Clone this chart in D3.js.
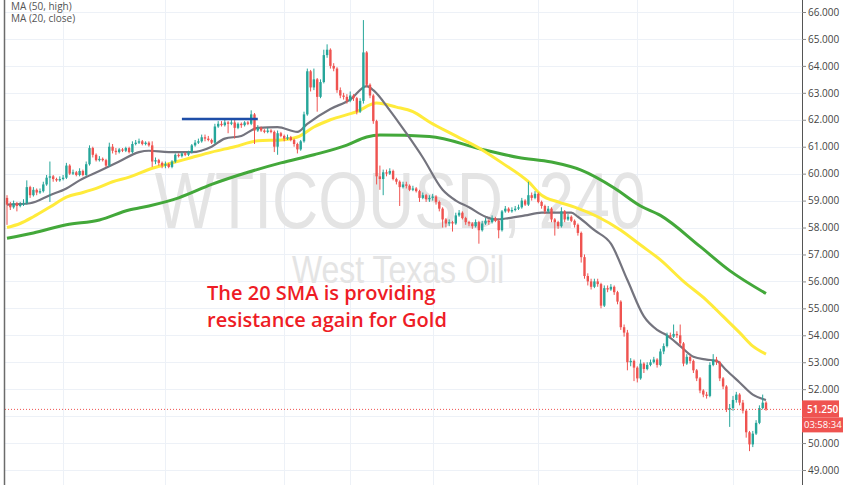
<!DOCTYPE html>
<html><head><meta charset="utf-8">
<script src="https://cdn.jsdelivr.net/npm/d3@7"></script>
<style>body{margin:0;background:#fff;}svg{display:block;}</style>
</head><body>
<svg id="chart" width="852" height="485"></svg>
<script>
// ---- DATA ----
const firstOpen = 59.1;
const closes = [58.85,58.75,58.9,58.8,58.85,58.9,59.5,59.2,59.4,59.3,
59.35,59.6,59.85,59.9,59.8,59.75,59.8,59.85,60.3,60.0,
60.05,59.95,60.1,59.95,60.35,60.95,60.7,60.5,60.55,60.5,
60.3,61.0,60.85,60.8,60.9,60.85,60.95,60.8,61.1,61.15,
61.2,61.1,61.15,61.05,60.45,60.5,60.4,60.3,60.35,60.25,
60.45,60.7,60.65,60.75,60.7,60.8,61.05,61.15,61.2,61.35,
61.3,61.25,61.15,61.75,61.85,61.8,61.9,61.85,61.9,61.7,
61.85,61.8,61.9,61.85,62.2,61.6,61.7,61.6,61.55,61.6,
61.55,61.0,61.5,61.4,61.3,61.35,61.25,61.1,60.9,61.2,
62.2,63.8,63.2,63.5,62.85,63.4,64.4,64.6,64.0,63.9,
63.1,62.9,62.85,62.7,62.9,62.8,62.3,62.7,64.5,63.3,
62.9,61.95,59.9,59.8,60.05,60.0,60.1,59.8,59.7,59.5,
59.6,59.55,59.4,59.45,59.35,59.1,59.2,59.05,59.1,59.15,
58.95,58.7,58.3,58.15,58.2,58.15,58.45,58.55,58.35,58.2,
58.15,58.05,58.2,57.9,58.15,58.25,58.2,58.35,58.25,57.9,
58.6,58.7,58.6,58.65,58.7,58.75,59.0,58.85,59.2,59.1,
59.25,58.95,58.8,58.6,58.7,58.3,58.2,58.05,58.6,58.3,
58.4,58.25,58.1,57.8,56.9,56.2,56.0,55.8,56.0,55.9,
55.1,55.75,55.7,55.8,55.6,55.25,54.3,54.1,53.0,53.05,
52.8,52.4,52.95,52.75,52.9,53.0,53.1,52.9,53.4,53.6,
54.0,53.95,54.05,54.0,53.7,52.95,53.2,53.05,52.7,52.4,
51.95,51.8,51.75,52.9,53.1,53.0,52.4,52.1,51.25,51.3,
51.6,51.8,51.5,51.2,50.4,49.95,50.35,50.75,51.3,51.5,
51.25];
const highs = [59.2,58.95,59.0,58.95,58.95,59.05,59.75,59.55,59.5,59.45,
59.45,59.7,59.95,60.45,59.95,59.85,59.9,59.95,60.4,60.35,
60.15,60.1,60.2,60.15,60.45,61.05,61.0,60.75,60.65,60.6,
60.55,61.15,61.1,60.95,60.95,60.95,61.0,61.0,61.2,61.25,
61.3,61.25,61.2,61.2,61.2,60.6,60.55,60.45,60.45,60.4,
60.5,60.75,60.75,60.8,60.8,60.85,61.1,61.25,61.3,61.45,
61.45,61.4,61.3,61.85,61.95,61.95,62.0,61.95,62.0,62.0,
61.9,61.9,61.95,61.95,62.35,62.25,61.8,61.75,61.65,61.7,
61.65,61.6,61.6,61.55,61.45,61.45,61.4,61.3,61.15,61.25,
62.3,63.9,63.85,63.9,63.55,63.5,64.6,64.8,64.65,64.1,
63.95,63.2,63.0,62.95,63.05,62.95,62.85,62.8,65.7,64.55,
63.35,62.95,62.0,60.3,60.15,60.15,60.2,60.15,59.85,59.75,
59.7,59.7,59.6,59.55,59.5,59.4,59.3,59.25,59.2,59.25,
59.2,59.0,58.75,58.35,58.3,58.25,58.55,58.65,58.6,58.4,
58.25,58.2,58.3,58.25,58.25,58.35,58.3,58.45,58.4,58.3,
58.65,58.8,58.75,58.75,58.8,58.85,59.1,59.05,59.7,59.3,
59.35,59.3,59.0,58.85,58.8,58.75,58.35,58.25,58.75,58.65,
58.5,58.45,58.3,58.15,57.85,57.0,56.3,56.1,56.1,56.1,
55.95,55.85,55.85,55.9,55.85,55.65,55.3,54.4,54.2,53.15,
53.1,52.85,53.1,53.0,53.0,53.1,53.2,53.15,53.5,53.7,
54.1,54.1,54.4,54.15,54.4,53.75,53.3,53.25,53.1,52.75,
52.45,52.0,51.9,53.0,53.3,53.2,53.05,52.45,52.15,51.45,
51.75,51.9,51.85,51.6,51.25,50.45,50.45,50.85,51.4,51.8,
51.55];
const lows = [58.1,58.65,58.7,58.6,58.75,58.8,58.85,59.1,59.15,59.2,
59.25,59.3,59.55,58.95,59.7,59.7,59.7,59.75,59.8,59.95,
59.95,59.9,59.9,59.9,59.9,60.3,60.6,60.45,60.45,60.45,
60.25,60.25,60.75,60.7,60.75,60.8,60.8,60.75,60.75,61.05,
61.1,61.05,61.05,61.0,60.25,60.35,60.3,60.2,60.2,60.2,
60.2,60.4,60.6,60.6,60.65,60.65,60.75,61.0,61.1,61.15,
61.2,61.2,61.1,61.1,61.7,61.75,61.75,61.5,61.8,61.3,
61.65,61.7,61.75,61.8,61.8,61.1,61.55,61.55,61.5,61.5,
61.5,60.8,60.7,61.35,61.2,61.25,61.2,61.0,60.75,60.85,
61.15,62.15,63.05,63.1,62.3,62.8,63.35,64.3,63.9,63.8,
63.0,62.8,62.75,62.6,62.65,62.7,62.2,62.25,62.6,63.2,
62.8,61.85,59.6,59.4,59.2,59.9,59.95,59.75,59.6,58.8,
59.45,59.45,59.35,59.35,59.3,58.95,59.05,58.95,58.95,59.0,
58.85,58.6,58.0,58.0,58.05,57.85,58.1,58.4,58.3,58.1,
58.05,57.95,58.0,57.4,57.85,58.1,58.1,58.15,58.2,57.6,
57.85,58.55,58.55,58.55,58.6,58.65,58.7,58.8,58.8,59.0,
59.05,58.9,58.7,58.5,58.55,58.2,57.7,57.95,58.0,58.2,
58.25,58.2,58.0,57.7,56.7,56.1,55.85,55.7,55.75,55.8,
55.0,55.05,55.6,55.65,55.5,55.15,54.2,53.95,52.7,52.85,
52.3,52.25,52.35,52.6,52.7,52.85,52.95,52.8,52.85,53.3,
53.55,53.9,53.9,53.9,53.6,52.85,52.9,52.95,52.6,52.3,
51.85,51.7,51.65,51.7,52.85,52.9,52.3,52.0,51.15,50.6,
51.2,51.5,51.4,51.1,50.2,49.7,49.85,50.3,50.7,51.25,
51.2];
// moving averages: [candle index, value]
const ma20Close = [[0,58.85],[7,58.9],[13,59.2],[18,59.45],[22,59.75],[28,60.1],[34,60.45],[40,60.8],[43,60.85],[49,60.8],[56,60.8],[62,61.0],[66,61.3],[71,61.4],[76,61.7],[82,61.73],[88,61.55],[91,61.85],[98,62.4],[104,62.75],[109,63.25],[111,63.1],[116,62.35],[121,61.5],[126,60.6],[132,59.4],[136,59.0],[140,58.75],[145,58.4],[148,58.3],[152,58.35],[157,58.45],[162,58.55],[167,58.55],[171,58.55],[173,58.4],[178,57.9],[183,57.4],[188,56.05],[193,54.7],[197,54.2],[200,54.0],[204,53.6],[208,53.2],[212,53.1],[215,53.05],[218,52.7],[222,52.25],[226,51.8],[230,51.6]];
const ma50High = [[0,58.0],[4,58.15],[8,58.4],[13,58.76],[18,59.13],[23,59.3],[28,59.5],[32,59.7],[37,59.87],[44,60.2],[51,60.43],[56,60.6],[62,60.8],[69,61.0],[76,61.22],[83,61.25],[88,61.36],[93,61.73],[98,62.0],[106,62.3],[112,62.62],[118,62.47],[123,62.3],[128,61.92],[136,61.4],[144,60.88],[150,60.4],[158,59.7],[162,59.2],[167,58.95],[172,58.76],[179,58.4],[186,57.9],[192,57.35],[198,56.8],[205,56.0],[212,55.3],[217,54.7],[222,54.1],[226,53.6],[230,53.3]];
const ma100 = [[0,57.6],[8,57.8],[18,58.1],[28,58.28],[37,58.65],[43,58.8],[52,59.1],[62,59.6],[73,60.05],[83,60.4],[93,60.7],[103,61.06],[109,61.36],[113,61.43],[128,61.38],[144,60.9],[155,60.6],[165,60.43],[174,60.13],[184,59.47],[192,58.8],[198,58.45],[210,57.3],[219,56.4],[230,55.55]];
const priceTicks = [66,65,64,63,62,61,60,59,58,57,56,55,54,53,52,50,49];
const timeGridIdx = [17,48,84,104,129,161,191,220];
const resistanceLine = {from: 53, to: 76, level: 62.03};
const lastPrice = 51.25, countdown = "03:58:34";
const legendLabels = ["MA (50, high)", "MA (20, close)"];
const watermark = ["WTICOUSD, 240", "West Texas Oil"];
const annotation = ["The 20 SMA is providing", "resistance again for Gold"];

// ---- CHART ----
const svg = d3.select("#chart");
const plotL = 5, plotR = 802, W = 852, H = 485;
const x = d3.scaleLinear().domain([0, closes.length - 1]).range([7, 766]);
const y = d3.scaleLinear().domain([49, 66]).range([470, 12]);

svg.append("defs").append("clipPath").attr("id","clip")
  .append("rect").attr("x",plotL).attr("y",0).attr("width",plotR-plotL).attr("height",H);

const g = svg.append("g").attr("clip-path","url(#clip)");
// grid
g.selectAll(".hg").data(d3.range(49,67)).join("line")
  .attr("x1",plotL).attr("x2",plotR).attr("y1",d=>Math.round(y(d))+0.5).attr("y2",d=>Math.round(y(d))+0.5)
  .attr("stroke","#edf1f7").attr("stroke-width",1);
g.selectAll(".vg").data(timeGridIdx).join("line")
  .attr("x1",d=>Math.round(x(d))+0.5).attr("x2",d=>Math.round(x(d))+0.5).attr("y1",0).attr("y2",H)
  .attr("stroke","#edf1f7").attr("stroke-width",1);

// watermark
g.append("text").attr("transform","translate(400,228) scale(1,1.25)").attr("text-anchor","middle")
  .attr("font-family","Liberation Sans, Arial, sans-serif").attr("font-size",64)
  .attr("fill","#e4e4e4").text(watermark[0]);
g.append("text").attr("transform","translate(398,283) scale(1,1.22)").attr("text-anchor","middle")
  .attr("font-family","Liberation Sans, Arial, sans-serif").attr("font-size",32)
  .attr("fill","#e4e4e4").text(watermark[1]);

// moving averages
const line = d3.line().x(d=>x(d[0])).y(d=>y(d[1])).curve(d3.curveMonotoneX);
g.append("path").datum(ma100).attr("d",line).attr("fill","none").attr("stroke","#43a83a").attr("stroke-width",3);
g.append("path").datum(ma50High).attr("d",line).attr("fill","none").attr("stroke","#ffeb3b").attr("stroke-width",3);
g.append("path").datum(ma20Close).attr("d",line).attr("fill","none").attr("stroke","#74747e").attr("stroke-width",2.2);

// candles
const candles = closes.map((c,i)=>({i, o: i===0?firstOpen:closes[i-1], c, h: highs[i], l: lows[i]}));
const up = "#26a69a", dn = "#ef5350";
const cg = g.append("g");
cg.selectAll(".wick").data(candles).join("line")
  .attr("x1",d=>x(d.i)).attr("x2",d=>x(d.i)).attr("y1",d=>y(d.h)).attr("y2",d=>y(d.l))
  .attr("stroke",d=>d.c>=d.o?up:dn).attr("stroke-width",1);
cg.selectAll(".body").data(candles).join("rect")
  .attr("x",d=>x(d.i)-1.2).attr("width",2.4)
  .attr("y",d=>y(Math.max(d.o,d.c))).attr("height",d=>Math.max(1,Math.abs(y(d.o)-y(d.c))))
  .attr("fill",d=>d.c>=d.o?up:dn);

// resistance line
g.append("line").attr("x1",x(resistanceLine.from)).attr("x2",x(resistanceLine.to))
  .attr("y1",y(resistanceLine.level)).attr("y2",y(resistanceLine.level))
  .attr("stroke","#1f4ea8").attr("stroke-width",2.5);

// last price dotted line
g.append("line").attr("x1",plotL).attr("x2",plotR).attr("y1",y(lastPrice)).attr("y2",y(lastPrice))
  .attr("stroke",dn).attr("stroke-width",1).attr("stroke-dasharray","1,2");

// annotation
g.selectAll(".ann").data(annotation).join("text")
  .attr("x",207).attr("y",(d,i)=>300+i*27)
  .attr("font-family","Open Sans, sans-serif").attr("font-weight",600).attr("font-size",20)
  .attr("fill","#ee1c25").text(d=>d);

// legend
svg.selectAll(".leg").data(legendLabels).join("text")
  .attr("x",11).attr("y",(d,i)=>10+i*12)
  .attr("font-family","Open Sans, sans-serif").attr("font-size",10).attr("fill","#555").text(d=>d);

// frame
svg.append("line").attr("x1",4.5).attr("x2",4.5).attr("y1",0).attr("y2",H).attr("stroke","#6b6b6b").attr("stroke-width",1.5);
// right axis
const axis = d3.axisRight(y).tickValues(priceTicks).tickFormat(d3.format(".3f")).tickSize(4).tickPadding(2);
const ag = svg.append("g").attr("transform",`translate(${plotR},0)`).call(axis);
ag.select(".domain").attr("stroke","#555").attr("d",`M0.5,0V${H}`);
ag.selectAll(".tick line").attr("stroke","#888");
ag.selectAll(".tick text").attr("font-family","Open Sans, sans-serif").attr("font-size",10).attr("fill","#444");

// price label
const py = y(lastPrice);
svg.append("rect").attr("x",plotR).attr("y",py-9).attr("width",37).attr("height",17).attr("fill",dn);
svg.append("text").attr("x",plotR+5).attr("y",py+3.5).attr("font-family","Open Sans, sans-serif")
  .attr("font-size",10).attr("font-weight",600).attr("fill","#fff").text(d3.format(".3f")(lastPrice));
svg.append("rect").attr("x",plotR).attr("y",py+8).attr("width",41).attr("height",15).attr("fill",dn);
svg.append("text").attr("x",plotR+2).attr("y",py+19).attr("font-family","Open Sans, sans-serif")
  .attr("font-size",9.5).attr("fill","#fff").text(countdown);
</script>
</body></html>
